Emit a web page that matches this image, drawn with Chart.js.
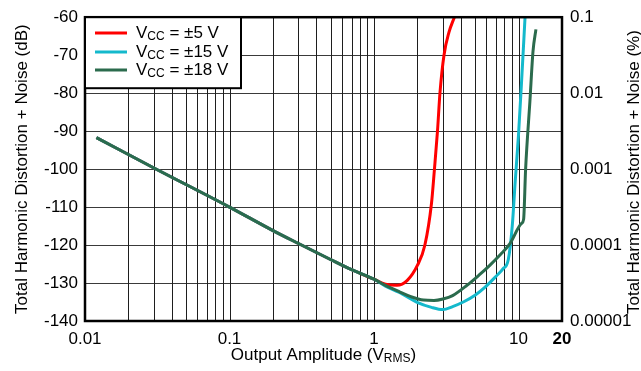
<!DOCTYPE html>
<html>
<head>
<meta charset="utf-8">
<script src="https://cdn.jsdelivr.net/npm/chart.js@4/dist/chart.umd.min.js"></script>
<style>
  html, body { margin: 0; padding: 0; background: #fff; }
  #wrap { width: 641px; height: 371px; }
</style>
</head>
<body>
<div id="wrap"><canvas id="thdChart" width="641" height="371"></canvas></div>
<script>
// shared low-level part of all three curves (noise limited, ~20 dB/dec)
const ampCommon = [0.012, 0.03, 0.1, 0.2, 0.3, 0.5, 0.7, 1.0];
const thdCommon = [-91.7, -99.7, -110.0, -116.2, -119.6, -123.8, -126.5, -129.0];

// Vcc = ±5 V
const amp5 = [1.2, 1.44, 1.7, 2.0, 2.25, 2.5, 2.62, 2.75, 2.86, 3.05, 3.3, 3.6];
const thd5 = [-130.3, -130.6, -129.3, -125.3, -120.0, -109.0, -100.0, -90.0, -80.0, -70.0, -64.0, -60.0];

// Vcc = ±15 V
const amp15 = [1.2, 1.5, 1.97, 2.5, 3.0, 3.5, 4.15, 5.0, 5.9, 7.0, 7.8, 8.5, 9.05, 9.5, 10.0, 10.5, 11.1];
const thd15 = [-130.8, -132.5, -135.0, -136.4, -137.0, -136.2, -135.0, -133.2, -131.0, -128.2, -126.3, -123.8, -115.0, -103.0, -91.0, -77.0, -60.0];

// Vcc = ±18 V
const amp18 = [1.2, 1.5, 1.8, 2.2, 2.6, 3.0, 3.5, 4.4, 5.3, 6.3, 7.5, 8.7, 10.5, 10.85, 11.2, 12.0, 12.6, 13.2];
const thd18 = [-130.6, -132.3, -133.6, -134.5, -134.6, -134.2, -133.3, -130.6, -128.0, -125.4, -122.5, -119.7, -114.3, -113.2, -100.0, -82.0, -69.0, -63.2];

const seriesLabels = ['±5 V', '±15 V', '±18 V'];
const seriesColors = ['#ff0000', '#14b9cc', '#2b6b4d'];

// x grid: 1..9 per decade, plus the 20 V end
const xDecades = [0.01, 0.1, 1, 10];
const xMultiples = [1, 2, 3, 4, 5, 6, 7, 8, 9];
const xLabelValues = [0.01, 0.1, 1, 10, 20];
const xTickValues = [];
xDecades.forEach(d => xMultiples.forEach(m => xTickValues.push(+(d * m).toPrecision(3))));
xTickValues.push(20);

const yLeftTicks = [-140, -130, -120, -110, -100, -90, -80, -70, -60];
const yRightTicks = [-140, -120, -100, -80, -60];
const yRightLabels = ['0.00001', '0.0001', '0.001', '0.01', '0.1'];

function toPoints(xs, ys) {
    return xs.map((x, i) => ({ x: x, y: ys[i] }));
}

const FONT = '"Liberation Sans", Arial, sans-serif';
Chart.defaults.font.family = FONT;
Chart.defaults.font.size = 17;
Chart.defaults.color = '#000';

const L = 85, R = 562, T = 16, B = 321;
const W = 641, H = 371;

const decorPlugin = {
    id: 'decor',
    // log grid for x
    beforeDatasetsDraw(chart) {
        const c = chart.ctx;
        const a = chart.chartArea;
        const xs = chart.scales.x;
        c.save();
        c.strokeStyle = '#1e1e1e';
        c.lineWidth = 1;
        xTickValues.forEach(v => {
            const px = Math.round(xs.getPixelForValue(v)) + 0.5;
            c.beginPath();
            c.moveTo(px, a.top);
            c.lineTo(px, a.bottom);
            c.stroke();
        });
        c.restore();
    },
    afterDraw(chart) {
        const c = chart.ctx;
        const a = chart.chartArea;
        const xs = chart.scales.x;
        const ys2 = chart.scales.y2;
        c.save();

        // clean strip right of the plot, then the % axis
        c.fillStyle = '#fff';
        c.fillRect(a.right + 1.5, 0, W - a.right, H);
        c.fillStyle = '#000';
        c.textAlign = 'left';
        c.textBaseline = 'middle';
        c.font = '17px ' + FONT;
        yRightTicks.forEach((v, i) => {
            c.fillText(yRightLabels[i], a.right + 8, ys2.getPixelForValue(v));
        });

        // frame round the plot
        c.strokeStyle = '#000';
        c.lineWidth = 2.5;
        c.strokeRect(a.left, a.top, a.right - a.left, a.bottom - a.top);

        // x tick labels
        c.fillStyle = '#000';
        c.textAlign = 'center';
        c.textBaseline = 'middle';
        xLabelValues.forEach(v => {
            c.font = (v === 20 ? 'bold ' : '') + '17px ' + FONT;
            c.fillText(String(v), xs.getPixelForValue(v), 339);
        });

        // legend box
        const lx = a.left, ly = a.top, lw = 156, lh = 71;
        c.fillStyle = '#fff';
        c.fillRect(lx, ly, lw, lh);
        c.strokeStyle = '#000';
        c.lineWidth = 2;
        c.strokeRect(lx, ly, lw, lh);
        const rows = [33, 52, 70];
        seriesLabels.forEach((lab, i) => {
            const y = rows[i];
            c.strokeStyle = seriesColors[i];
            c.lineWidth = 3;
            c.beginPath();
            c.moveTo(95, y);
            c.lineTo(127, y);
            c.stroke();
            c.fillStyle = '#000';
            c.textBaseline = 'middle';
            c.textAlign = 'left';
            let x = 136;
            c.font = '17px ' + FONT;
            c.fillText('V', x, y);
            x += c.measureText('V').width;
            c.font = '12px ' + FONT;
            c.fillText('CC', x, y + 4);
            x += c.measureText('CC').width;
            c.font = '17px ' + FONT;
            c.fillText(' = ' + lab, x, y);
        });

        // axis titles
        c.fillStyle = '#000';
        c.textAlign = 'center';
        c.textBaseline = 'middle';
        c.font = '17px ' + FONT;
        const midY = (a.top + a.bottom) / 2;
        c.save();
        c.translate(22, midY);
        c.rotate(-Math.PI / 2);
        c.fillText('Total Harmonic Distortion + Noise (dB)', 0, 0);
        c.restore();
        c.save();
        c.translate(634, midY + 3);
        c.rotate(-Math.PI / 2);
        c.fillText('Total Harmonic Distortion + Noise (%)', 0, 0);
        c.restore();

        // x title with subscript
        const p1 = 'Output Amplitude (V', sub = 'RMS', p2 = ')';
        c.font = '17px ' + FONT;
        const w1 = c.measureText(p1).width, w3 = c.measureText(p2).width;
        c.font = '12px ' + FONT;
        const w2 = c.measureText(sub).width;
        let x = (a.left + a.right) / 2 - (w1 + w2 + w3) / 2;
        const ty = 355;
        c.textAlign = 'left';
        c.font = '17px ' + FONT;
        c.fillText(p1, x, ty);
        x += w1;
        c.font = '12px ' + FONT;
        c.fillText(sub, x, ty + 4);
        x += w2;
        c.font = '17px ' + FONT;
        c.fillText(p2, x, ty);

        c.restore();
    }
};

const ctx = document.getElementById('thdChart').getContext('2d');
new Chart(ctx, {
    type: 'line',
    data: {
        datasets: [
            {
                label: 'VCC = ' + seriesLabels[0],
                data: toPoints(ampCommon.concat(amp5), thdCommon.concat(thd5)),
                borderColor: seriesColors[0],
                order: 3
            },
            {
                label: 'VCC = ' + seriesLabels[1],
                data: toPoints(ampCommon.concat(amp15), thdCommon.concat(thd15)),
                borderColor: seriesColors[1],
                order: 2
            },
            {
                label: 'VCC = ' + seriesLabels[2],
                data: toPoints(ampCommon.concat(amp18), thdCommon.concat(thd18)),
                borderColor: seriesColors[2],
                order: 1
            }
        ]
    },
    options: {
        responsive: false,
        animation: false,
        layout: { padding: { top: T, left: 0, right: 0, bottom: 0 } },
        datasets: {
            line: {
                borderWidth: 3,
                pointRadius: 0,
                fill: false,
                cubicInterpolationMode: 'monotone'
            }
        },
        plugins: {
            legend: { display: false },
            tooltip: { enabled: false }
        },
        scales: {
            x: {
                type: 'logarithmic',
                min: 0.01,
                max: 20,
                border: { display: false },
                grid: { display: false },
                ticks: { display: false },
                afterFit: s => { s.height = H - B; }
            },
            y: {
                position: 'left',
                min: -140,
                max: -60,
                border: { display: false },
                grid: { color: '#3a3a3a', lineWidth: 1, drawTicks: false },
                afterBuildTicks: s => { s.ticks = yLeftTicks.map(v => ({ value: v })); },
                afterFit: s => { s.width = L; },
                ticks: { padding: 7 }
            },
            y2: {
                position: 'right',
                min: -140,
                max: -60,
                border: { display: false },
                grid: { display: false, drawTicks: false },
                ticks: { display: false },
                afterFit: s => { s.width = W - R; }
            }
        }
    },
    plugins: [decorPlugin]
});
</script>
</body>
</html>
